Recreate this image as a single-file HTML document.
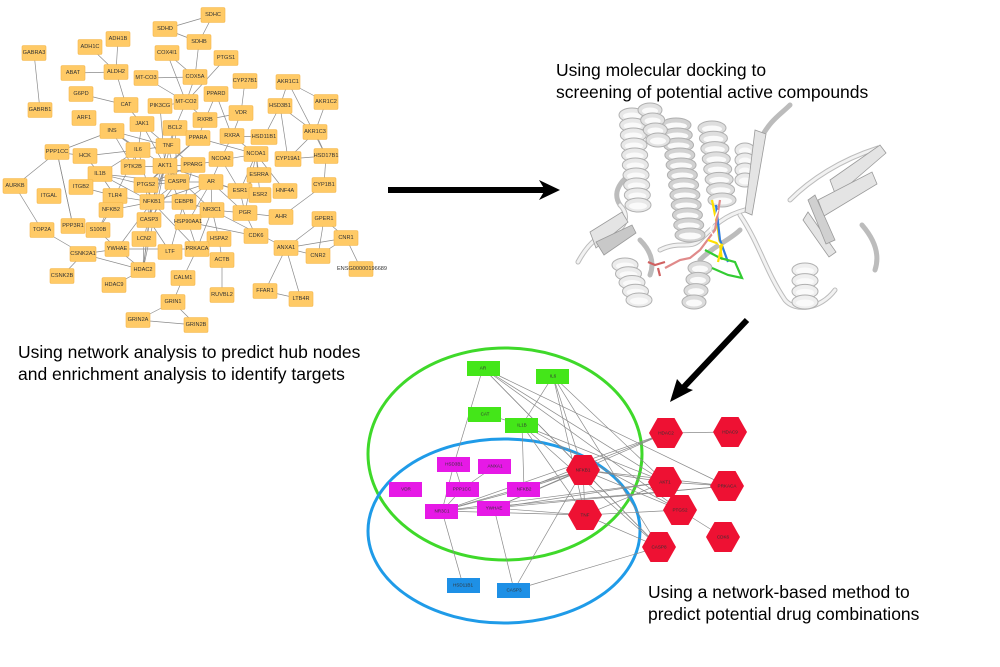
<!DOCTYPE html>
<html><head><meta charset="utf-8">
<style>
html,body{margin:0;padding:0;background:#fff;}
svg{display:block;}
.n rect{fill:#ffca66;stroke:#f3b54a;stroke-width:0.6;}
.n text{font-family:"Liberation Sans",sans-serif;font-size:5.6px;fill:#333;text-anchor:middle;dominant-baseline:central;}
.b text{font-family:"Liberation Sans",sans-serif;font-size:4.6px;fill:#333;text-anchor:middle;dominant-baseline:central;}
.cap{font-family:"Liberation Sans",sans-serif;font-size:17.5px;fill:#000;}
</style></head><body>
<svg id="s" width="1000" height="667" viewBox="0 0 1000 667" xmlns="http://www.w3.org/2000/svg">
<g id="e1" stroke="#8a8a8a" stroke-width="0.7"></g>
<g class="n" id="tn">
<rect x="201" y="7.5" width="24" height="15" rx="1.5"/><text x="213" y="15">SDHC</text>
<rect x="153" y="21.5" width="24" height="15" rx="1.5"/><text x="165" y="29">SDHD</text>
<rect x="187" y="34.5" width="24" height="15" rx="1.5"/><text x="199" y="42">SDHB</text>
<rect x="106" y="31.5" width="24" height="15" rx="1.5"/><text x="118" y="39">ADH1B</text>
<rect x="78" y="39.5" width="24" height="15" rx="1.5"/><text x="90" y="47">ADH1C</text>
<rect x="22" y="45.5" width="24" height="15" rx="1.5"/><text x="34" y="53">GABRA3</text>
<rect x="155" y="45.5" width="24" height="15" rx="1.5"/><text x="167" y="53">COX4I1</text>
<rect x="214" y="50.5" width="24" height="15" rx="1.5"/><text x="226" y="58">PTGS1</text>
<rect x="61" y="65.5" width="24" height="15" rx="1.5"/><text x="73" y="73">ABAT</text>
<rect x="104" y="64.5" width="24" height="15" rx="1.5"/><text x="116" y="72">ALDH2</text>
<rect x="134" y="70.5" width="24" height="15" rx="1.5"/><text x="146" y="78">MT-CO3</text>
<rect x="183" y="69.5" width="24" height="15" rx="1.5"/><text x="195" y="77">COX5A</text>
<rect x="233" y="73.5" width="24" height="15" rx="1.5"/><text x="245" y="81">CYP27B1</text>
<rect x="276" y="74.5" width="24" height="15" rx="1.5"/><text x="288" y="82">AKR1C1</text>
<rect x="69" y="86.5" width="24" height="15" rx="1.5"/><text x="81" y="94">G6PD</text>
<rect x="204" y="86.5" width="24" height="15" rx="1.5"/><text x="216" y="94">PPARD</text>
<rect x="314" y="94.5" width="24" height="15" rx="1.5"/><text x="326" y="102">AKR1C2</text>
<rect x="114" y="97.5" width="24" height="15" rx="1.5"/><text x="126" y="105">CAT</text>
<rect x="148" y="98.5" width="24" height="15" rx="1.5"/><text x="160" y="106">PIK3CG</text>
<rect x="174" y="94.5" width="24" height="15" rx="1.5"/><text x="186" y="102">MT-CO2</text>
<rect x="268" y="98.5" width="24" height="15" rx="1.5"/><text x="280" y="106">HSD3B1</text>
<rect x="28" y="102.5" width="24" height="15" rx="1.5"/><text x="40" y="110">GABRB1</text>
<rect x="229" y="105.5" width="24" height="15" rx="1.5"/><text x="241" y="113">VDR</text>
<rect x="72" y="110.5" width="24" height="15" rx="1.5"/><text x="84" y="118">ARF1</text>
<rect x="130" y="116.5" width="24" height="15" rx="1.5"/><text x="142" y="124">JAK1</text>
<rect x="193" y="112.5" width="24" height="15" rx="1.5"/><text x="205" y="120">RXRB</text>
<rect x="100" y="123.5" width="24" height="15" rx="1.5"/><text x="112" y="131">INS</text>
<rect x="163" y="120.5" width="24" height="15" rx="1.5"/><text x="175" y="128">BCL2</text>
<rect x="220" y="128.5" width="24" height="15" rx="1.5"/><text x="232" y="136">RXRA</text>
<rect x="251" y="129.5" width="26" height="15" rx="1.5"/><text x="264" y="137">HSD11B1</text>
<rect x="303" y="124.5" width="24" height="15" rx="1.5"/><text x="315" y="132">AKR1C3</text>
<rect x="186" y="130.5" width="24" height="15" rx="1.5"/><text x="198" y="138">PPARA</text>
<rect x="156" y="138.5" width="24" height="15" rx="1.5"/><text x="168" y="146">TNF</text>
<rect x="126" y="142.5" width="24" height="15" rx="1.5"/><text x="138" y="150">IL6</text>
<rect x="45" y="144.5" width="24" height="15" rx="1.5"/><text x="57" y="152">PPP1CC</text>
<rect x="73" y="148.5" width="24" height="15" rx="1.5"/><text x="85" y="156">HCK</text>
<rect x="244" y="146.5" width="24" height="15" rx="1.5"/><text x="256" y="154">NCOA1</text>
<rect x="209" y="151.5" width="24" height="15" rx="1.5"/><text x="221" y="159">NCOA2</text>
<rect x="275" y="151.5" width="26" height="15" rx="1.5"/><text x="288" y="159">CYP19A1</text>
<rect x="314" y="148.5" width="24" height="15" rx="1.5"/><text x="326" y="156">HSD17B1</text>
<rect x="153" y="158.5" width="24" height="15" rx="1.5"/><text x="165" y="166">AKT1</text>
<rect x="121" y="159.5" width="24" height="15" rx="1.5"/><text x="133" y="167">PTK2B</text>
<rect x="181" y="157.5" width="24" height="15" rx="1.5"/><text x="193" y="165">PPARG</text>
<rect x="3" y="178.5" width="24" height="15" rx="1.5"/><text x="15" y="186">AURKB</text>
<rect x="88" y="166.5" width="24" height="15" rx="1.5"/><text x="100" y="174">IL1B</text>
<rect x="69" y="179.5" width="24" height="15" rx="1.5"/><text x="81" y="187">ITGB2</text>
<rect x="103" y="188.5" width="24" height="15" rx="1.5"/><text x="115" y="196">TLR4</text>
<rect x="134" y="177.5" width="24" height="15" rx="1.5"/><text x="146" y="185">PTGS2</text>
<rect x="165" y="174.5" width="24" height="15" rx="1.5"/><text x="177" y="182">CASP8</text>
<rect x="199" y="174.5" width="24" height="15" rx="1.5"/><text x="211" y="182">AR</text>
<rect x="247" y="167.5" width="24" height="15" rx="1.5"/><text x="259" y="175">ESRRA</text>
<rect x="228" y="183.5" width="24" height="15" rx="1.5"/><text x="240" y="191">ESR1</text>
<rect x="249" y="187.5" width="22" height="15" rx="1.5"/><text x="260" y="195">ESR2</text>
<rect x="273" y="183.5" width="24" height="15" rx="1.5"/><text x="285" y="191">HNF4A</text>
<rect x="312" y="177.5" width="24" height="15" rx="1.5"/><text x="324" y="185">CYP1B1</text>
<rect x="37" y="188.5" width="24" height="15" rx="1.5"/><text x="49" y="196">ITGAL</text>
<rect x="140" y="194.5" width="24" height="15" rx="1.5"/><text x="152" y="202">NFKB1</text>
<rect x="172" y="194.5" width="24" height="15" rx="1.5"/><text x="184" y="202">CEBPB</text>
<rect x="200" y="202.5" width="24" height="15" rx="1.5"/><text x="212" y="210">NR3C1</text>
<rect x="233" y="205.5" width="24" height="15" rx="1.5"/><text x="245" y="213">PGR</text>
<rect x="99" y="202.5" width="24" height="15" rx="1.5"/><text x="111" y="210">NFKB2</text>
<rect x="269" y="209.5" width="24" height="15" rx="1.5"/><text x="281" y="217">AHR</text>
<rect x="312" y="211.5" width="24" height="15" rx="1.5"/><text x="324" y="219">GPER1</text>
<rect x="137" y="212.5" width="24" height="15" rx="1.5"/><text x="149" y="220">CASP3</text>
<rect x="175" y="214.5" width="26" height="15" rx="1.5"/><text x="188" y="222">HSP90AA1</text>
<rect x="61" y="218.5" width="24" height="15" rx="1.5"/><text x="73" y="226">PPP3R1</text>
<rect x="86" y="222.5" width="24" height="15" rx="1.5"/><text x="98" y="230">S100B</text>
<rect x="30" y="222.5" width="24" height="15" rx="1.5"/><text x="42" y="230">TOP2A</text>
<rect x="244" y="228.5" width="24" height="15" rx="1.5"/><text x="256" y="236">CDK6</text>
<rect x="132" y="231.5" width="24" height="15" rx="1.5"/><text x="144" y="239">LCN2</text>
<rect x="207" y="231.5" width="24" height="15" rx="1.5"/><text x="219" y="239">HSPA2</text>
<rect x="334" y="230.5" width="24" height="15" rx="1.5"/><text x="346" y="238">CNR1</text>
<rect x="274" y="240.5" width="24" height="15" rx="1.5"/><text x="286" y="248">ANXA1</text>
<rect x="105" y="241.5" width="24" height="15" rx="1.5"/><text x="117" y="249">YWHAE</text>
<rect x="158" y="244.5" width="24" height="15" rx="1.5"/><text x="170" y="252">LTF</text>
<rect x="185" y="241.5" width="24" height="15" rx="1.5"/><text x="197" y="249">PRKACA</text>
<rect x="70" y="246.5" width="26" height="15" rx="1.5"/><text x="83" y="254">CSNK2A1</text>
<rect x="306" y="248.5" width="24" height="15" rx="1.5"/><text x="318" y="256">CNR2</text>
<rect x="210" y="252.5" width="24" height="15" rx="1.5"/><text x="222" y="260">ACTB</text>
<rect x="131" y="262.5" width="24" height="15" rx="1.5"/><text x="143" y="270">HDAC2</text>
<rect x="349" y="261.5" width="24" height="15" rx="1.5"/><text x="362" y="269">ENSG00000196689</text>
<rect x="50" y="268.5" width="24" height="15" rx="1.5"/><text x="62" y="276">CSNK2B</text>
<rect x="171" y="270.5" width="24" height="15" rx="1.5"/><text x="183" y="278">CALM1</text>
<rect x="102" y="277.5" width="24" height="15" rx="1.5"/><text x="114" y="285">HDAC9</text>
<rect x="210" y="287.5" width="24" height="15" rx="1.5"/><text x="222" y="295">RUVBL2</text>
<rect x="253" y="283.5" width="24" height="15" rx="1.5"/><text x="265" y="291">FFAR1</text>
<rect x="289" y="291.5" width="24" height="15" rx="1.5"/><text x="301" y="299">LTB4R</text>
<rect x="161" y="294.5" width="24" height="15" rx="1.5"/><text x="173" y="302">GRIN1</text>
<rect x="126" y="312.5" width="24" height="15" rx="1.5"/><text x="138" y="320">GRIN2A</text>
<rect x="184" y="317.5" width="24" height="15" rx="1.5"/><text x="196" y="325">GRIN2B</text>
</g>

<text class="cap" x="18" y="358">Using network analysis to predict hub nodes</text>
<text class="cap" x="18" y="380">and enrichment analysis to identify targets</text>
<text class="cap" x="556" y="76">Using molecular docking to</text>
<text class="cap" x="556" y="98">screening of potential active compounds</text>
<text class="cap" x="648" y="598">Using a network-based method to</text>
<text class="cap" x="648" y="620">predict potential drug combinations</text>

<line x1="388" y1="190" x2="545" y2="190" stroke="#000" stroke-width="6"/>
<polygon points="560,190 539,180 545,190 539,200" fill="#000"/>
<line x1="747" y1="320" x2="682" y2="389" stroke="#000" stroke-width="6"/>
<polygon points="670,402 677,379 684,387 693,390" fill="#000"/>

<!-- protein -->
<g fill="none" stroke-linecap="round">
<g stroke="#bcbcbc" stroke-width="5">
<path d="M578,262 C590,240 600,235 615,232 C625,228 630,215 620,205"/>
<path d="M620,205 C610,190 625,175 640,170"/>
<path d="M660,250 C680,240 690,250 700,240 C715,225 725,215 745,210"/>
<path d="M700,260 C715,245 730,240 740,230"/>
<path d="M740,215 C760,245 765,270 785,300 C795,312 820,310 835,290"/>
<path d="M790,200 C810,180 840,160 878,148"/>
<path d="M760,140 C770,120 780,115 790,105"/>
<path d="M640,240 C650,250 655,262 650,275"/>
<path d="M862,225 C875,240 880,255 875,270"/>
</g>
<g stroke="#f2f2f2" stroke-width="3">
<path d="M578,262 C590,240 600,235 615,232 C625,228 630,215 620,205"/>
<path d="M660,250 C680,240 690,250 700,240 C715,225 725,215 745,210"/>
<path d="M740,215 C760,245 765,270 785,300 C795,312 820,310 835,290"/>
<path d="M790,200 C810,180 840,160 878,148"/>
</g>
</g>
<g id="helix"></g>
<g fill="#e4e4e4" stroke="#9a9a9a" stroke-width="0.8">
<polygon points="590,232 622,212 628,222 596,248"/>
<polygon points="596,242 632,225 636,233 604,255" fill="#c8c8c8"/>
<polygon points="755,130 766,134 752,215 745,212"/>
<polygon points="830,180 880,145 886,153 836,196"/>
<polygon points="818,200 872,172 877,184 824,216"/>
<polygon points="808,212 836,252 829,257 803,220"/>
<polygon points="815,195 835,240 826,244 808,200" fill="#d0d0d0"/>
</g>
<g stroke-width="2.2" fill="none">
<path d="M712,200 L718,230 L722,260" stroke="#ffe000"/>
<path d="M716,205 L720,240 L728,262" stroke="#2a7de1"/>
<path d="M705,250 L720,258 L735,262 L742,278 L728,275 L712,268" stroke="#33cc33"/>
<path d="M720,200 L715,230 L700,250 L690,258 L680,260 L665,268" stroke="#e08a8a"/>
<path d="M665,262 L655,265 L648,262 M658,268 L660,276" stroke="#d06060"/>
<path d="M708,240 L722,245 L718,262" stroke="#ffe000"/>
<path d="M718,210 L710,230 L720,245" stroke="#ffffff" stroke-width="1.5"/>
</g>

<ellipse cx="505" cy="454" rx="137" ry="106" fill="none" stroke="#3fd92a" stroke-width="3"/>
<ellipse cx="504" cy="531" rx="136" ry="92" fill="none" stroke="#1f9be8" stroke-width="3"/>
<g id="e2" stroke="#8a8a8a" stroke-width="0.7"></g>
<g class="b">
<rect x="467" y="361" width="33" height="15" fill="#44e619"/><text x="483" y="368">AR</text>
<rect x="536" y="369" width="33" height="15" fill="#44e619"/><text x="553" y="376">IL6</text>
<rect x="468" y="407" width="33" height="15" fill="#44e619"/><text x="485" y="414">CAT</text>
<rect x="505" y="418" width="33" height="15" fill="#44e619"/><text x="522" y="425">IL1B</text>
<rect x="437" y="457" width="33" height="15" fill="#e619e6"/><text x="454" y="464">HSD3B1</text>
<rect x="478" y="459" width="33" height="15" fill="#e619e6"/><text x="495" y="466">ANXA1</text>
<rect x="389" y="482" width="33" height="15" fill="#e619e6"/><text x="406" y="489">VDR</text>
<rect x="446" y="482" width="33" height="15" fill="#e619e6"/><text x="462" y="489">PPP1CC</text>
<rect x="507" y="482" width="33" height="15" fill="#e619e6"/><text x="524" y="489">NFKB2</text>
<rect x="425" y="504" width="33" height="15" fill="#e619e6"/><text x="442" y="511">NR3C1</text>
<rect x="477" y="501" width="33" height="15" fill="#e619e6"/><text x="494" y="508">YWHAE</text>
<rect x="447" y="578" width="33" height="15" fill="#1e90e6"/><text x="463" y="585">HSD11B1</text>
<rect x="497" y="583" width="33" height="15" fill="#1e90e6"/><text x="514" y="590">CASP3</text>
</g>
<g class="b" id="hex">
<text x="666" y="433">HDAC2</text>
<text x="730" y="432">HDAC9</text>
<text x="583" y="470">NFKB1</text>
<text x="665" y="482">AKT1</text>
<text x="727" y="486">PRKACA</text>
<text x="585" y="515">TNF</text>
<text x="680" y="510">PTGS2</text>
<text x="723" y="537">CDK6</text>
<text x="659" y="547">CASP8</text>
</g>
</svg>
<script>
var T={SDHC:[213,15],SDHD:[165,29],SDHB:[199,42],ADH1B:[118,39],ADH1C:[90,47],GABRA3:[34,53],COX4I1:[167,53],PTGS1:[226,58],ABAT:[73,73],ALDH2:[116,72],MTCO3:[146,78],COX5A:[195,77],CYP27B1:[245,81],AKR1C1:[288,82],G6PD:[81,94],PPARD:[216,94],AKR1C2:[326,102],CAT:[126,105],PIK3CG:[160,106],MTCO2:[186,102],HSD3B1:[280,106],GABRB1:[40,110],VDR:[241,113],ARF1:[84,118],JAK1:[142,124],RXRB:[205,120],INS:[112,131],BCL2:[175,128],RXRA:[232,136],HSD11B1:[264,137],AKR1C3:[315,132],PPARA:[198,138],TNF:[168,146],IL6:[138,150],PPP1CC:[57,152],HCK:[85,156],NCOA1:[256,154],NCOA2:[221,159],CYP19A1:[288,159],HSD17B1:[326,156],AKT1:[165,166],PTK2B:[133,167],PPARG:[193,165],AURKB:[15,186],IL1B:[100,174],ITGB2:[81,187],TLR4:[115,196],PTGS2:[146,185],CASP8:[177,182],AR:[211,182],ESRRA:[259,175],ESR1:[240,191],ESR2:[260,195],HNF4A:[285,191],CYP1B1:[324,185],ITGAL:[49,196],NFKB1:[152,202],CEBPB:[184,202],NR3C1:[212,210],PGR:[245,213],NFKB2:[111,210],AHR:[281,217],GPER1:[324,219],CASP3:[149,220],HSP90AA1:[188,222],PPP3R1:[73,226],S100B:[98,230],TOP2A:[42,230],CDK6:[256,236],LCN2:[144,239],HSPA2:[219,239],CNR1:[346,238],ANXA1:[286,248],YWHAE:[117,249],LTF:[170,252],PRKACA:[197,249],CSNK2A1:[83,254],CNR2:[318,256],ACTB:[222,260],HDAC2:[143,270],ENSG:[361,269],CSNK2B:[62,276],CALM1:[183,278],HDAC9:[114,285],RUVBL2:[222,295],FFAR1:[265,291],LTB4R:[301,299],GRIN1:[173,302],GRIN2A:[138,320],GRIN2B:[196,325]};
var E1="SDHC-SDHD SDHC-SDHB SDHD-SDHB SDHB-COX5A COX4I1-COX5A COX4I1-MTCO2 MTCO3-COX5A MTCO3-MTCO2 COX5A-MTCO2 PTGS1-MTCO2 ADH1B-ALDH2 ADH1C-ALDH2 ABAT-ALDH2 ALDH2-CAT G6PD-CAT CAT-JAK1 GABRA3-GABRB1 MTCO2-BCL2 MTCO2-RXRB MTCO2-PIK3CG PPARD-RXRA PPARD-RXRB VDR-RXRB VDR-RXRA CYP27B1-VDR AKR1C1-HSD3B1 AKR1C1-AKR1C2 AKR1C2-AKR1C3 HSD3B1-AKR1C3 HSD3B1-HSD11B1 HSD3B1-CYP19A1 AKR1C3-HSD17B1 AKR1C3-CYP19A1 CYP19A1-HSD17B1 HSD17B1-CYP1B1 AKR1C1-HSD17B1 RXRA-HSD11B1 RXRA-NCOA1 RXRA-NCOA2 RXRB-PPARA PPARA-NCOA1 PPARG-NCOA1 NCOA1-ESRRA NCOA1-ESR1 NCOA1-ESR2 NCOA1-HNF4A NCOA2-AR NCOA2-ESR1 NCOA1-PGR INS-TNF INS-IL6 INS-AKT1 INS-PPP1CC JAK1-IL6 JAK1-TNF JAK1-AKT1 PIK3CG-AKT1 BCL2-TNF BCL2-AKT1 BCL2-CASP8 TNF-IL6 TNF-NFKB1 TNF-CASP8 TNF-PPARG IL6-HCK IL6-IL1B IL6-NFKB1 IL6-PTK2B IL6-TLR4 PPP1CC-AURKB PPP1CC-PPP3R1 AURKB-TOP2A TOP2A-CSNK2A1 CSNK2A1-CSNK2B CSNK2A1-HDAC2 HDAC2-HDAC9 HDAC2-NFKB1 HDAC2-CASP3 HDAC2-AKT1 S100B-TLR4 S100B-NFKB2 ITGB2-IL1B ITGB2-TLR4 IL1B-TLR4 IL1B-NFKB1 IL1B-PTGS2 TLR4-NFKB1 NFKB2-NFKB1 NFKB1-CEBPB NFKB1-CASP3 NFKB1-PTGS2 NFKB1-AR NFKB1-PRKACA NFKB1-YWHAE CEBPB-AR CEBPB-NR3C1 AR-NR3C1 AR-ESR1 AR-PGR AR-HSP90AA1 NR3C1-HSP90AA1 NR3C1-PGR NR3C1-PRKACA NR3C1-HSPA2 HSP90AA1-AKT1 HSP90AA1-PRKACA PGR-ESR1 PGR-AHR PGR-CDK6 PRKACA-CALM1 PRKACA-HSPA2 PRKACA-YWHAE LTF-CASP3 LTF-CEBPB LCN2-NFKB1 LCN2-HDAC2 HSPA2-ACTB ACTB-RUVBL2 CALM1-GRIN1 GRIN1-GRIN2A GRIN1-GRIN2B GRIN2A-GRIN2B ANXA1-GPER1 ANXA1-CNR1 ANXA1-CNR2 ANXA1-FFAR1 ANXA1-LTB4R FFAR1-LTB4R GPER1-CNR1 GPER1-CNR2 CNR1-CNR2 CNR1-ENSG ANXA1-NR3C1 AHR-CYP1B1 AKT1-PTGS2 AKT1-CASP8 AKT1-CASP3 AKT1-NFKB1 AKT1-PPARG PTGS2-CASP8 PTGS2-PPARG CASP8-CASP3 CASP8-NFKB1 PPP3R1-PPP1CC YWHAE-CSNK2A1 YWHAE-S100B HCK-IL1B HCK-PPP1CC CASP8-AR CEBPB-PPARG PPARA-AKT1 AKT1-ESR1 PTGS2-PPARA HSP90AA1-CDK6 NR3C1-AKT1 INS-PTK2B PTK2B-AKT1 ESR1-ESR2 PTGS2-CASP3 IL1B-CASP8 YWHAE-HDAC2 ESRRA-ESR1";
var B={AR:[483,368],IL6:[553,376],CAT:[485,414],IL1B:[522,425],HSD3B1:[454,464],ANXA1:[495,466],VDR:[406,489],PPP1CC:[462,489],NFKB2:[524,489],NR3C1:[442,511],YWHAE:[494,508],HSD11B1:[463,585],CASP3:[514,590],HDAC2:[666,433],HDAC9:[730,432],NFKB1:[583,470],AKT1:[665,482],PRKACA:[727,486],TNF:[585,515],PTGS2:[680,510],CDK6:[723,537],CASP8:[659,547]};
var E2="AR-HSD3B1 AR-AKT1 AR-PTGS2 AR-PRKACA AR-NFKB1 AR-CASP8 IL6-IL1B IL6-TNF IL6-NFKB1 IL6-AKT1 IL6-CASP8 CAT-IL1B IL1B-NFKB2 IL1B-TNF IL1B-AKT1 IL1B-PTGS2 IL1B-CASP8 HSD3B1-PPP1CC HSD3B1-NR3C1 ANXA1-PPP1CC PPP1CC-NR3C1 NR3C1-NFKB2 NR3C1-NFKB1 NR3C1-AKT1 NR3C1-PRKACA NR3C1-HSD11B1 NR3C1-TNF NR3C1-HDAC2 YWHAE-NFKB1 YWHAE-AKT1 YWHAE-PRKACA YWHAE-TNF YWHAE-CASP3 YWHAE-HDAC2 NFKB2-NFKB1 NFKB2-HDAC2 NFKB1-TNF NFKB1-AKT1 NFKB1-CASP8 NFKB1-PTGS2 NFKB1-PRKACA HDAC2-HDAC9 AKT1-PRKACA AKT1-TNF PTGS2-CDK6 PTGS2-TNF CASP3-CASP8 CASP3-NFKB1 TNF-CASP8";
function draw(M,E,id){var g=document.getElementById(id),s="";E.split(" ").forEach(function(p){var a=p.split("-"),u=M[a[0]],v=M[a[1]];if(u&&v)s+='<line x1="'+u[0]+'" y1="'+u[1]+'" x2="'+v[0]+'" y2="'+v[1]+'"/>';});g.innerHTML=s;}
draw(T,E1,"e1");draw(B,E2,"e2");
var h="";["HDAC2","HDAC9","NFKB1","AKT1","PRKACA","TNF","PTGS2","CDK6","CASP8"].forEach(function(k){var c=B[k],x=c[0],y=c[1];h+='<polygon fill="#ee1133" points="'+(x-17)+','+y+' '+(x-8.5)+','+(y-15)+' '+(x+8.5)+','+(y-15)+' '+(x+17)+','+y+' '+(x+8.5)+','+(y+15)+' '+(x-8.5)+','+(y+15)+'"/>';});
document.getElementById("hex").insertAdjacentHTML("afterbegin",h);
var H=[[632,115,205,13,6,"#e8e8e8"],[676,125,235,15,14,"#d2d2d2"],[712,128,200,14,10,"#dedede"],[650,110,140,12,8,"#e2e2e2"],[625,265,300,13,14,"#ececec"],[700,268,302,12,-6,"#dcdcdc"],[805,270,302,13,0,"#efefef"],[745,150,180,10,0,"#eaeaea"]];
var hs="";H.forEach(function(a){var x=a[0],y0=a[1],y1=a[2],rx=a[3],dx=a[4],c=a[5],n=Math.max(2,Math.round((y1-y0)/10));for(var i=0;i<=n;i++){var t=i/n,y=y0+(y1-y0)*t,xx=x+dx*t;hs+='<ellipse cx="'+xx+'" cy="'+y+'" rx="'+rx+'" ry="7" fill="'+c+'" stroke="#b0b0b0" stroke-width="1"/><ellipse cx="'+xx+'" cy="'+(y+1)+'" rx="'+(rx-4)+'" ry="3.5" fill="#fafafa" stroke="none"/>';}});
document.getElementById("helix").innerHTML=hs;
</script>
</body></html>
